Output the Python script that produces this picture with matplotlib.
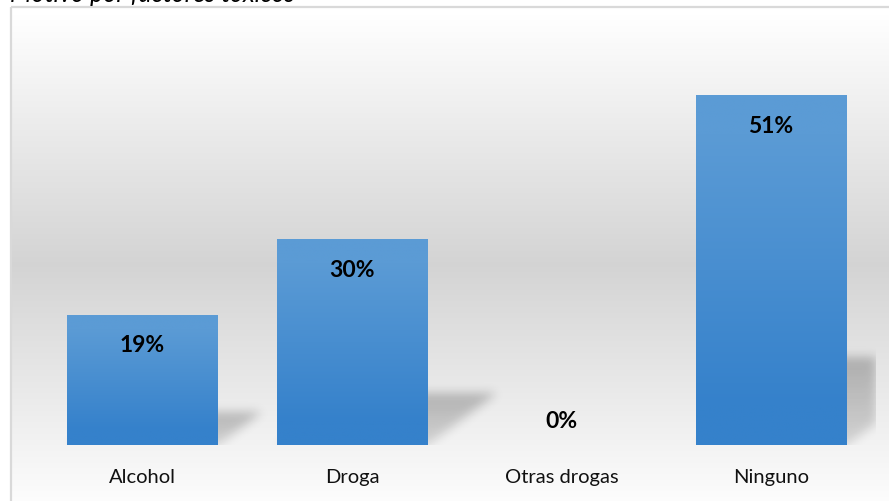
import matplotlib.pyplot as plt
import numpy as np
from matplotlib.patches import Rectangle

categorias = ['Alcohol', 'Droga', 'Otras drogas', 'Ninguno']
porcentajes = [19, 30, 0, 51]
etiquetas = ['19%', '30%', '0%', '51%']

W, H = 889, 502
fig = plt.figure(figsize=(W / 100, H / 100), dpi=100)

# fondo del grafico: degradado gris que se aclara hacia arriba y abajo
bg = fig.add_axes([0, 0, 1, 1], zorder=0)
bg.set_axis_off()
yy = np.arange(H)[:, None]
nivel = 1 - 0.17 * np.clip(1 - np.abs(yy - 265) / 250.0, 0, 1)
fondo = np.repeat(nivel, W, axis=1)
fondo[:, :10] = 1.0
fondo[:7, :] = 1.0
bg.imshow(np.dstack([fondo] * 3), extent=[0, W, H, 0], aspect='auto')
bg.set_xlim(0, W)
bg.set_ylim(H, 0)
bg.add_patch(Rectangle((10.5, 7.5), W + 20, H + 20, fill=False,
                       edgecolor='#d9d9d9', lw=1.6))

# titulo (queda cortado por el borde superior)
fig.text(295 / W, 1 - 1.5 / H, 'Motivo por factores tóxicos', ha='right',
         va='baseline', fontsize=18, style='italic', family='Lato')

# area de trazado
x0, x1, yb, ytop = 37.75, 875.75, 446, 34.2
ax = fig.add_axes([x0 / W, (H - yb) / H, (x1 - x0) / W, (yb - ytop) / H],
                  zorder=1)
ax.set_facecolor('none')
ymax = 60
ax.set_xlim(-0.5, len(categorias) - 0.5)
ax.set_ylim(0, ymax)
for s in ax.spines.values():
    s.set_visible(False)
ax.set_yticks([])
x = np.arange(len(categorias))
ax.set_xticks(x)
ax.set_xticklabels(categorias, fontsize=14.5, family='Lato', color='#111111')
ax.tick_params(axis='x', length=0, pad=16.5)

ancho = 0.72

# sombras en perspectiva detras de las barras
pw, ph = int(round(x1 - x0)), int(round(yb - ytop))
ux = pw / (ax.get_xlim()[1] - ax.get_xlim()[0])
uy = ph / ymax
gx = (np.arange(pw) + 0.5)[None, :]
gy = (np.arange(ph) + 0.5)[:, None]
mascara = np.zeros((ph, pw))
for xi, v in zip(x, porcentajes):
    alto = v * uy
    if alto <= 0:
        continue
    izq = (xi - ancho / 2 + 0.5) * ux
    der = (xi + ancho / 2 + 0.5) * ux
    xs = gx - 1.33 * gy
    m = (gy <= 0.25 * alto) & (xs >= izq) & (xs <= der)
    peso = 0.55 + 0.45 * np.clip(gy / (0.25 * alto), 0, 1)
    mascara = np.maximum(mascara, m * peso)

k = np.exp(-0.5 * (np.arange(-15, 16) / 5.0) ** 2)
k /= k.sum()
mascara = np.apply_along_axis(lambda r: np.convolve(r, k, mode='same'), 1, mascara)
mascara = np.apply_along_axis(lambda c: np.convolve(c, k, mode='same'), 0, mascara)
sombra = np.zeros((ph, pw, 4))
sombra[..., 3] = 0.24 * mascara
ax.imshow(sombra, origin='lower', extent=[-0.5, len(categorias) - 0.5, 0, ymax],
          aspect='auto', zorder=1, interpolation='bilinear')

# barras con degradado azul
azul_top = np.array([0x5b, 0x9b, 0xd5]) / 255
azul_bot = np.array([0x35, 0x81, 0xcb]) / 255
t = np.linspace(0, 1, 256)[:, None]
grad = azul_bot + (azul_top - azul_bot) * np.clip(t * 1.3 - 0.15, 0, 1)
grad = grad[:, None, :]
barras = ax.bar(x, porcentajes, width=ancho, color='#4a8fd2', zorder=2)
for b, v in zip(barras, porcentajes):
    if v <= 0:
        continue
    im = ax.imshow(grad, origin='lower', aspect='auto', zorder=3,
                   extent=[b.get_x(), b.get_x() + b.get_width(), 0, v])
    im.set_clip_path(b)

for xi, v, lab in zip(x, porcentajes, etiquetas):
    ax.text(xi, max(v - 4.4, 3.5), lab, ha='center', va='center',
            fontsize=16.5, fontweight='bold', family='Lato', color='#000000',
            zorder=4)

ax.set_xlim(-0.5, len(categorias) - 0.5)
ax.set_ylim(0, ymax)

fig.savefig('out.png', dpi=100)
